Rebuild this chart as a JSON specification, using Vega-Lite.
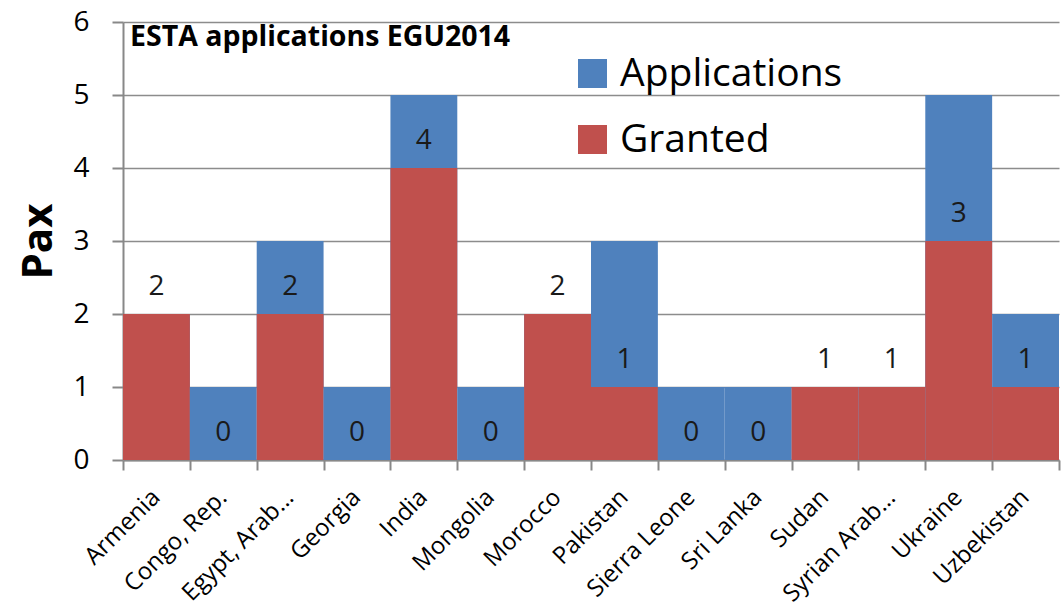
{
  "$schema": "https://vega.github.io/schema/vega-lite/v6.json",
  "autosize": "none",
  "padding": {"left": 123, "top": 22, "right": 3, "bottom": 149},
  "width": 936,
  "height": 438,
  "background": "white",
  "config": {
    "font": "Open Sans",
    "view": {"stroke": null},
    "axis": {"domainColor": "#888888", "domainWidth": 2, "tickColor": "#888888", "tickWidth": 2, "labelColor": "black", "labelFont": "Open Sans"},
    "axisY": {"gridColor": "#8c8c8c", "gridWidth": 1.5, "tickSize": 11, "labelFontSize": 28, "labelPadding": 23, "titleFontSize": 42, "titleFontWeight": "bold", "titleColor": "black", "titlePadding": 12, "titleFont": "Open Sans"},
    "axisX": {"grid": false, "tickSize": 10, "labelFontSize": 24, "labelAngle": -45, "labelPadding": 15, "labelOffset": -9, "tickBand": "extent", "labelLimit": 0},
    "legend": {"orient": "none", "legendX": 450, "legendY": 32, "symbolType": "square", "symbolSize": 841, "symbolStrokeWidth": 0, "symbolOpacity": 1, "labelFontSize": 39, "labelFont": "Open Sans", "labelColor": "black", "labelOffset": 8, "rowPadding": 26, "labelLimit": 0}
  },
  "title": {"text": "ESTA applications EGU2014", "anchor": "start", "frame": "group", "orient": "top", "offset": -43, "baseline": "top", "dx": 7, "fontSize": 28.5, "fontWeight": "bold", "font": "Open Sans", "color": "black"},
  "data": {
    "values": [
      {"country": "Armenia", "Applications": 2, "Granted": 2},
      {"country": "Congo, Rep.", "Applications": 1, "Granted": 0},
      {"country": "Egypt, Arab...", "Applications": 3, "Granted": 2},
      {"country": "Georgia", "Applications": 1, "Granted": 0},
      {"country": "India", "Applications": 5, "Granted": 4},
      {"country": "Mongolia", "Applications": 1, "Granted": 0},
      {"country": "Morocco", "Applications": 2, "Granted": 2},
      {"country": "Pakistan", "Applications": 3, "Granted": 1},
      {"country": "Sierra Leone", "Applications": 1, "Granted": 0},
      {"country": "Sri Lanka", "Applications": 1, "Granted": 0},
      {"country": "Sudan", "Applications": 1, "Granted": 1},
      {"country": "Syrian Arab...", "Applications": 1, "Granted": 1},
      {"country": "Ukraine", "Applications": 5, "Granted": 3},
      {"country": "Uzbekistan", "Applications": 2, "Granted": 1}
    ]
  },
  "encoding": {
    "x": {"field": "country", "type": "nominal", "sort": null, "title": null, "scale": {"paddingInner": 0, "paddingOuter": 0}}
  },
  "layer": [
    {
      "transform": [{"fold": ["Applications", "Granted"], "as": ["series", "value"]}],
      "mark": {"type": "bar"},
      "encoding": {
        "y": {"field": "value", "type": "quantitative", "stack": null, "title": "Pax", "scale": {"domain": [0, 6]}, "axis": {"values": [0, 1, 2, 3, 4, 5, 6], "format": "d"}},
        "color": {"field": "series", "type": "nominal", "title": null, "scale": {"domain": ["Applications", "Granted"], "range": ["#4F81BD", "#C0504D"]}}
      }
    },
    {
      "mark": {"type": "text", "baseline": "middle", "dy": -27, "fontSize": 28, "color": "#1a1a1a", "font": "Open Sans"},
      "encoding": {
        "y": {"field": "Granted", "type": "quantitative", "title": "Pax"},
        "text": {"field": "Granted", "type": "quantitative"}
      }
    }
  ]
}
